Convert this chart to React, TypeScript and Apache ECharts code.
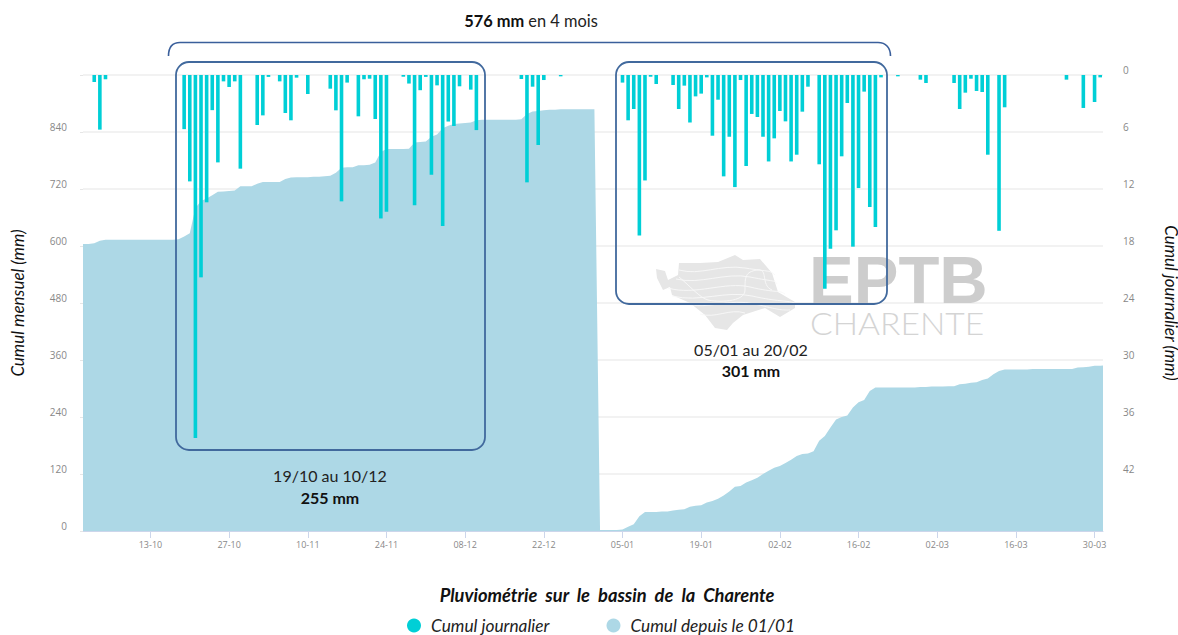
import React, { useEffect, useRef } from "react";
import * as echarts from "echarts";

const tickDays = [12, 26, 40, 54, 68, 82, 96, 110, 124, 138, 152, 166, 180];
const tickLabels = ["13-10", "27-10", "10-11", "24-11", "08-12", "22-12", "05-01", "19-01", "02-02", "16-02", "02-03", "16-03", "30-03"];

const rainDays = [
  2, 3, 4, 18, 19, 20, 21, 22, 23, 24, 25, 26, 27, 28, 31, 32, 33, 35, 36, 37, 38, 40, 44, 45, 46, 47, 49, 50, 51, 52, 53, 54,
  57, 58, 59, 60, 61, 62, 63, 64, 65, 66, 67, 69, 70, 78, 79, 80, 81, 82, 85,
  96, 97, 98, 99, 100, 101, 102, 105, 106, 107, 108, 109, 110, 111, 112, 113, 114, 115, 116, 117, 118, 119, 120, 121, 122, 123, 124, 125, 126, 127, 128, 129,
  131, 132, 133, 134, 135, 136, 137, 138, 139, 140, 141, 142, 145, 149, 150, 155, 156, 157, 158, 159, 160, 161, 163, 164, 175, 178, 180, 181,
];
const rainMm = [
  0.74, 5.75, 0.45, 5.7, 11.2, 38.2, 21.3, 13.4, 3.7, 9.2, 0.67, 1.26, 0.67, 9.86, 5.26, 4.25, 0.2, 0.67, 4.0, 4.77, 0.28, 2.0, 1.44, 3.72, 13.3, 0.8, 4.35, 0.45, 0.39, 4.63, 15.1, 14.4,
  0.18, 0.9, 13.7, 1.6, 0.2, 10.5, 1.09, 15.9, 4.9, 5.37, 1.19, 1.54, 5.8, 0.42, 11.3, 1.23, 7.37, 0.53, 0.14,
  0.8, 4.77, 3.58, 16.9, 11.1, 0.18, 0.95, 1.05, 3.58, 1.12, 5.0, 2.25, 1.96, 0.25, 6.39, 2.6, 10.67, 6.5, 11.8, 0.53, 9.58, 4.1, 4.42, 6.5, 9.1, 6.67, 3.79, 4.88, 9.1, 8.39, 3.86, 1.23,
  9.4, 22.5, 18.3, 16.35, 8.56, 2.95, 18.07, 11.9, 1.75, 13.9, 16.0, 0.25, 0.14, 0.49, 0.84, 0.84, 3.58, 1.86, 0.39, 1.68, 1.79, 8.39, 16.4, 3.4, 0.49, 3.47, 2.84, 0.25,
];
const cumulative = [
  604, 604, 606, 611, 613, 613, 613, 613, 613, 613, 613, 613, 613, 613, 613, 613, 613, 614, 620, 627,
  680, 695, 700, 707, 714, 715, 716, 717, 726, 726, 726, 731, 735, 735, 735, 735, 741, 744, 745, 745,
  745, 746, 746, 747, 748, 754, 765, 766, 766, 770, 770, 771, 776, 798, 804, 804, 804, 804, 805, 818,
  819, 820, 830, 835, 848, 853, 857, 858, 859, 860, 865, 866, 866, 866, 866, 866, 866, 866, 867, 878,
  883, 884, 886, 887, 887, 888, 888, 888, 888, 888, 888, 888, 2, 2, 2, 2, 3, 9, 14, 31,
  40, 40, 40, 41, 41, 43, 45, 46, 51, 53, 54, 60, 63, 68, 75, 83, 93, 95, 102, 107,
  112, 120, 127, 133, 137, 143, 150, 158, 162, 163, 168, 190, 200, 218, 235, 240, 243, 260, 271, 276,
  295, 302, 302, 302, 302, 302, 302, 302, 302, 303, 303, 304, 304, 304, 305, 305, 309, 310, 312, 313,
  318, 321, 330, 337, 340, 340, 340, 340, 340, 341, 341, 341, 341, 341, 341, 341, 341, 344, 345, 346,
  348, 348, 349,
];

const BOX = "#41699D";
const TEXT = "#222222";
const FONT = "Lato, 'Open Sans', sans-serif";
const BLOB_D = "M656 269L665 271L668 280L678 275L679 263L700 263L718 262L735 255L743 260L760 259L772 273L778 292L795 302L795 308L780 317L765 308L743 315L733 323L727 330L715 328L705 315L690 303L672 295L670 287L663 290L657 278Z";
const WAVES_D = "M679 270C700 276 720 264 745 268S770 270 775 275M676 279C700 285 725 272 750 277S775 280 777 284M668 288C695 296 725 281 750 287S780 290 785 294M672 296C700 303 725 290 752 296S785 300 795 303M688 304C705 310 730 298 755 304S780 310 790 310M700 314C715 319 730 308 745 313M679 277C690 286 700 298 708 300S745 303 745 290S745 272 757 270S760 285 772 290";

echarts.graphic.registerShape("bracket", echarts.graphic.extendPath("M168.5 56C168.5 48 172 42.5 180 42.5L878 42.5C886 42.5 890.5 48 890.5 56", {}));
echarts.graphic.registerShape("blob", echarts.graphic.extendPath(BLOB_D, {}));
echarts.graphic.registerShape("waves", echarts.graphic.extendPath(WAVES_D, {}));

export default function App() {
  const ref = useRef<HTMLDivElement>(null);
  useEffect(() => {
    const chart = echarts.init(ref.current!, undefined, { renderer: "svg" });
    chart.setOption({
      animation: false,
      backgroundColor: "#ffffff",
      title: {
        text: "Pluviométrie  sur  le  bassin  de  la  Charente",
        left: 602,
        top: 581,
        textAlign: "center",
        textStyle: { fontFamily: FONT, fontSize: 18.3, fontStyle: "italic", fontWeight: "bold", color: "#111111" },
      },
      legend: {
        left: 402,
        top: 612,
        icon: "circle",
        itemWidth: 14,
        itemHeight: 14,
        itemGap: 57,
        data: ["Cumul journalier", "Cumul depuis le 01/01"],
        textStyle: { fontFamily: FONT, fontSize: 17.3, fontStyle: "italic", color: "#222222", padding: [0, 0, 0, 5] },
      },
      grid: { left: 83, right: 75, top: 75, height: 456, outerBoundsMode: "none", containLabel: false },
      xAxis: {
        type: "value",
        min: 0,
        max: 181.5,
        containShape: false,
        splitLine: { show: false },
        axisLine: { show: true, lineStyle: { color: "#ccd6eb" } },
        axisTick: { show: true, length: 7, lineStyle: { color: "#ccd6eb" }, customValues: tickDays },
        axisLabel: {
          customValues: tickDays,
          formatter: (v: number) => tickLabels[tickDays.indexOf(v)] ?? "",
          fontFamily: "'Open Sans', sans-serif",
          fontSize: 9,
          color: "#888888",
          margin: 9,
        },
      },
      yAxis: [
        {
          type: "value",
          min: 0,
          max: 960,
          interval: 120,
          name: "Cumul mensuel (mm)",
          nameLocation: "middle",
          nameRotate: 90,
          nameGap: 57,
          nameTextStyle: { fontFamily: FONT, fontSize: 17, fontStyle: "italic", color: "#111111" },
          axisLine: { show: false },
          axisTick: { show: true, length: 3, lineStyle: { color: "#e6e6e6" } },
          splitLine: { show: true, lineStyle: { color: "#eeeeee", width: 1.5 } },
          axisLabel: {
            formatter: (v: number) => (v === 960 ? "" : String(v)),
            fontFamily: "'Open Sans', sans-serif",
            fontSize: 10,
            color: "#888888",
            verticalAlign: "bottom",
            margin: 16,
          },
        },
        {
          type: "value",
          min: 0,
          max: 48,
          interval: 6,
          inverse: true,
          position: "right",
          name: "Cumul journalier (mm)",
          nameLocation: "middle",
          nameRotate: -90,
          nameGap: 60,
          nameTextStyle: { fontFamily: FONT, fontSize: 17, fontStyle: "italic", color: "#111111" },
          axisLine: { show: false },
          axisTick: { show: false },
          splitLine: { show: false },
          axisLabel: {
            formatter: (v: number) => (v === 48 ? "" : String(v)),
            fontFamily: "'Open Sans', sans-serif",
            fontSize: 10,
            color: "#888888",
            verticalAlign: "bottom",
            margin: 20,
          },
        },
      ],
      series: [
        {
          name: "Cumul journalier",
          type: "bar",
          yAxisIndex: 1,
          barWidth: 3.6,
          z: 4,
          itemStyle: { color: "#00CFD6" },
          data: rainDays.map((d, i) => [d, rainMm[i]]),
        },
        {
          name: "Cumul depuis le 01/01",
          type: "line",
          yAxisIndex: 0,
          symbol: "none",
          z: 3,
          clip: true,
          itemStyle: { color: "#ADD8E6" },
          lineStyle: { width: 0 },
          areaStyle: { color: "#ADD8E6", opacity: 1 },
          data: cumulative.map((v, i) => [i, v]),
        },
      ],
      graphic: [
        { type: "blob", x: 0, y: 0, z: 1, silent: true, style: { fill: "#E6E6E6", stroke: "none" } },
        { type: "waves", x: 0, y: 0, z: 1, silent: true, style: { fill: "none", stroke: "#f8f8f8", lineWidth: 0.9 } },
        {
          type: "text", x: 809, y: 279, z: 1, silent: true,
          style: { text: "EPTB", fontFamily: "'Liberation Sans', sans-serif", fontWeight: "bold", fontSize: 67, fill: "#CDCDCD", verticalAlign: "middle" },
        },
        {
          type: "text", x: 810, y: 323, z: 1, silent: true, scaleX: 1.05,
          style: { text: "CHARENTE", fontFamily: "Lato, sans-serif", fontWeight: 300, fontSize: 32, fill: "#D4D4D4", verticalAlign: "middle" },
        },
        { type: "bracket", x: 0, y: 0, z: 10, silent: true, style: { fill: "none", stroke: "#3A5F9B", lineWidth: 1.6 } },
        { type: "rect", z: 10, silent: true, shape: { x: 176, y: 62, width: 309, height: 388, r: 13 }, style: { fill: "none", stroke: BOX, lineWidth: 1.8 } },
        { type: "rect", z: 10, silent: true, shape: { x: 616, y: 62, width: 271, height: 242, r: 13 }, style: { fill: "none", stroke: BOX, lineWidth: 1.8 } },
        {
          type: "text", x: 531, y: 20, z: 10, silent: true,
          style: {
            text: "{b|576 mm} en 4 mois", align: "center", verticalAlign: "middle", fontFamily: FONT, fontSize: 16.4, fill: TEXT,
            rich: { b: { fontFamily: FONT, fontSize: 16.4, fontWeight: "bold", fill: "#111111" } },
          },
        },
        { type: "text", x: 330, y: 475, z: 10, silent: true, style: { text: "19/10 au 10/12", align: "center", verticalAlign: "middle", fontFamily: FONT, fontSize: 16, fill: TEXT } },
        { type: "text", x: 330, y: 497, z: 10, silent: true, style: { text: "255 mm", align: "center", verticalAlign: "middle", fontFamily: FONT, fontSize: 16, fontWeight: "bold", fill: "#111111" } },
        { type: "text", x: 751, y: 349, z: 10, silent: true, style: { text: "05/01 au 20/02", align: "center", verticalAlign: "middle", fontFamily: FONT, fontSize: 16, fill: TEXT } },
        { type: "text", x: 751, y: 370, z: 10, silent: true, style: { text: "301 mm", align: "center", verticalAlign: "middle", fontFamily: FONT, fontSize: 16, fontWeight: "bold", fill: "#111111" } },
      ],
    });
    return () => chart.dispose();
  }, []);
  return <div ref={ref} style={{ position: "fixed", left: 0, top: 0, width: 1178, height: 635 }} />;
}
